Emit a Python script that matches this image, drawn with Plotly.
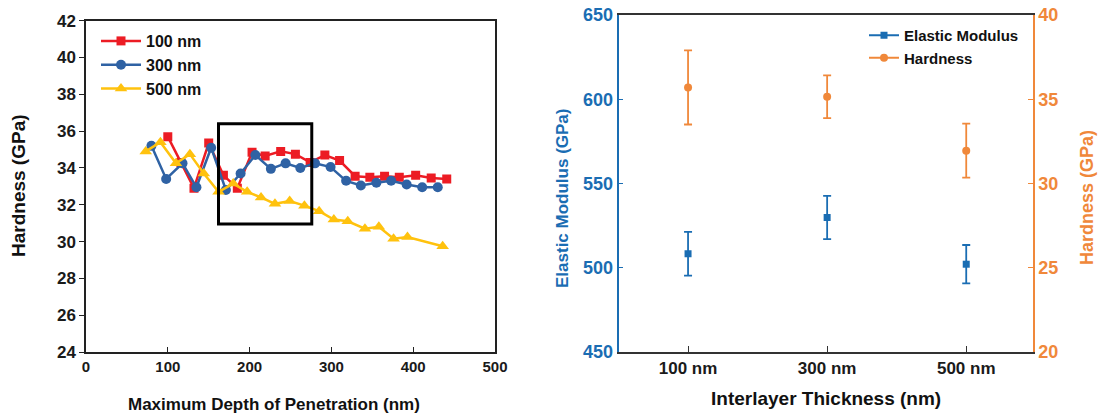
import plotly.graph_objects as go

# ---------------- data: left panel ----------------
depth_100 = [100, 116, 132, 150, 168, 185, 203, 219, 238, 256, 274, 292, 310, 329, 347, 365, 383, 403, 422, 441]
hard_100 = [35.7, 34.3, 32.9, 35.35, 33.6, 32.9, 34.85, 34.65, 34.9, 34.75, 34.3, 34.7, 34.4, 33.55, 33.5, 33.55, 33.5, 33.6, 33.45, 33.4]

depth_300 = [80, 98, 118, 135, 153, 171, 189, 207, 226, 244, 262, 280, 299, 318, 336, 355, 373, 392, 411, 430]
hard_300 = [35.2, 33.4, 34.25, 32.95, 35.1, 32.8, 33.7, 34.7, 33.95, 34.25, 34.0, 34.25, 34.05, 33.3, 33.05, 33.2, 33.3, 33.1, 32.95, 32.95]

depth_500 = [73, 91, 110, 127, 144, 162, 180, 197, 214, 231, 249, 267, 285, 303, 320, 341, 358, 376, 393, 436]
hard_500 = [34.9, 35.4, 34.25, 34.75, 33.7, 32.7, 33.15, 32.7, 32.4, 32.05, 32.2, 31.95, 31.65, 31.2, 31.1, 30.7, 30.8, 30.15, 30.25, 29.75]

series_names = ["100 nm", "300 nm", "500 nm"]
series_colors = ["#EC1C24", "#2F62A4", "#FFC20E"]

zoom_box_x = [162, 276]
zoom_box_y = [30.95, 36.4]

# ---------------- data: right panel ----------------
thickness = ["100 nm", "300 nm", "500 nm"]
modulus = [508.3, 529.8, 502.1]
modulus_err = [13.0, 12.8, 11.4]
hardness = [35.7, 35.15, 31.95]
hardness_err = [2.2, 1.27, 1.6]

BLUE = "#1A6DB3"
ORANGE = "#F0883A"
FONT = "Liberation Sans, Arial, sans-serif"

fig = go.Figure()

markers = ["square", "circle", "triangle-up"]
msizes = [9, 10, 11]
for name, xs, ys, col, sym, ms in zip(
    series_names,
    [depth_100, depth_300, depth_500],
    [hard_100, hard_300, hard_500],
    series_colors, markers, msizes,
):
    fig.add_trace(go.Scatter(
        x=xs, y=ys, name=name, mode="lines+markers",
        line=dict(color=col, width=2.5),
        marker=dict(symbol=sym, size=ms, color=col),
        xaxis="x", yaxis="y", legend="legend",
    ))

# right panel data traces
fig.add_trace(go.Scatter(
    x=thickness, y=modulus, mode="markers", showlegend=False,
    marker=dict(symbol="square", size=7, color=BLUE),
    error_y=dict(type="data", array=modulus_err, color=BLUE, thickness=1.8, width=4),
    xaxis="x2", yaxis="y2",
))
fig.add_trace(go.Scatter(
    x=thickness, y=hardness, mode="markers", showlegend=False,
    marker=dict(symbol="circle", size=8, color=ORANGE),
    error_y=dict(type="data", array=hardness_err, color=ORANGE, thickness=1.8, width=4),
    xaxis="x2", yaxis="y3",
))
# legend entries for right panel
fig.add_trace(go.Scatter(
    x=[None], y=[None], name="Elastic Modulus", mode="lines+markers",
    line=dict(color=BLUE, width=2), marker=dict(symbol="square", size=7, color=BLUE),
    xaxis="x2", yaxis="y2", legend="legend2",
))
fig.add_trace(go.Scatter(
    x=[None], y=[None], name="Hardness", mode="lines+markers",
    line=dict(color=ORANGE, width=2), marker=dict(symbol="circle", size=8, color=ORANGE),
    xaxis="x2", yaxis="y3", legend="legend2",
))

W, H = 1102, 415
L_x0, L_x1 = 86 / W, 495 / W
L_y0, L_y1 = (H - 352) / H, (H - 20.7) / H
R_x0, R_x1 = 618.5 / W, 1033 / W
R_y0, R_y1 = (H - 352) / H, (H - 15) / H

fig.update_layout(
    width=W, height=H,
    margin=dict(l=0, r=0, t=0, b=0, autoexpand=False),
    paper_bgcolor="white", plot_bgcolor="white",
    font=dict(family=FONT),
    xaxis=dict(
        domain=[L_x0, L_x1], range=[0, 500], dtick=100, tick0=0, automargin=False,
        showgrid=False, zeroline=False,
        showline=True, linecolor="#222", linewidth=1.5, mirror=True,
        ticks="inside", ticklen=5, tickcolor="#222", tickwidth=1.2,
        tickfont=dict(family=FONT, size=15, color="#1a1a1a", weight="bold"), anchor="y",
    ),
    yaxis=dict(
        domain=[L_y0, L_y1], range=[24, 42], dtick=2, tick0=24, automargin=False,
        showgrid=False, zeroline=False,
        showline=True, linecolor="#222", linewidth=1.5, mirror=True,
        ticks="outside", ticklen=5, tickcolor="#222", tickwidth=1.2,
        tickfont=dict(family=FONT, size=17, color="#1a1a1a", weight="bold"), anchor="x",
    ),
    xaxis2=dict(
        domain=[R_x0, R_x1], range=[-0.5, 2.48], type="category", automargin=False,
        showgrid=False, zeroline=False,
        showline=True, linecolor="#333", linewidth=1.8, mirror=True,
        ticks="inside", ticklen=6, tickcolor="#333", tickwidth=1.2,
        tickfont=dict(family=FONT, size=17, color="#1a1a1a", weight="bold"), anchor="y2",
    ),
    yaxis2=dict(
        domain=[R_y0, R_y1], range=[450, 650], dtick=50, tick0=450, automargin=False,
        showgrid=False, zeroline=False,
        showline=True, linecolor=BLUE, linewidth=1.5,
        ticks="inside", ticklen=5, tickcolor=BLUE, tickwidth=1.2,
        tickfont=dict(family=FONT, size=18, color=BLUE, weight="bold"), anchor="x2",
    ),
    yaxis3=dict(
        range=[20, 40], dtick=5, tick0=20, overlaying="y2", side="right", automargin=False,
        showgrid=False, zeroline=False,
        showline=True, linecolor=ORANGE, linewidth=1.5,
        ticks="inside", ticklen=5, tickcolor=ORANGE, tickwidth=1.2,
        tickfont=dict(family=FONT, size=18, color=ORANGE, weight="bold"), anchor="x2",
    ),
    legend=dict(
        x=96 / W, y=(H - 24) / H, xanchor="left", yanchor="top",
        font=dict(family=FONT, size=16, color="#111", weight="bold"),
        bgcolor="rgba(0,0,0,0)", tracegroupgap=0, itemwidth=40,
    ),
    legend2=dict(
        x=864 / W, y=(H - 19) / H, xanchor="left", yanchor="top",
        font=dict(family=FONT, size=15, color="#111", weight="bold"),
        bgcolor="rgba(0,0,0,0)", itemwidth=30,
    ),
    shapes=[dict(
        type="rect", xref="x", yref="y",
        x0=zoom_box_x[0], x1=zoom_box_x[1], y0=zoom_box_y[0], y1=zoom_box_y[1],
        line=dict(color="black", width=3), fillcolor="rgba(0,0,0,0)",
    )],
    annotations=[
        dict(text="<b>Hardness (GPa)</b>", x=19 / W, y=(H - 186) / H, xref="paper", yref="paper",
             textangle=-90, showarrow=False, font=dict(family=FONT, size=19, color="#111"),
             xanchor="center", yanchor="middle"),
        dict(text="<b>Maximum Depth of Penetration (nm)</b>", x=274 / W, y=(H - 404) / H,
             xref="paper", yref="paper", showarrow=False,
             font=dict(family=FONT, size=17, color="#111"), xanchor="center", yanchor="middle"),
        dict(text="<b>Elastic Modulus (GPa)</b>", x=563 / W, y=(H - 198) / H, xref="paper", yref="paper",
             textangle=-90, showarrow=False, font=dict(family=FONT, size=17, color=BLUE),
             xanchor="center", yanchor="middle"),
        dict(text="<b>Interlayer Thickness (nm)</b>", x=826 / W, y=(H - 398) / H,
             xref="paper", yref="paper", showarrow=False,
             font=dict(family=FONT, size=19, color="#111"), xanchor="center", yanchor="middle"),
        dict(text="<b>Hardness (GPa)</b>", x=1087 / W, y=(H - 198) / H, xref="paper", yref="paper",
             textangle=-90, showarrow=False, font=dict(family=FONT, size=18, color=ORANGE),
             xanchor="center", yanchor="middle"),
    ],
)

fig.write_html(
    "out.html",
    config={"displayModeBar": False},
    post_script="document.body.style.margin='0';document.body.style.overflow='hidden';",
)
